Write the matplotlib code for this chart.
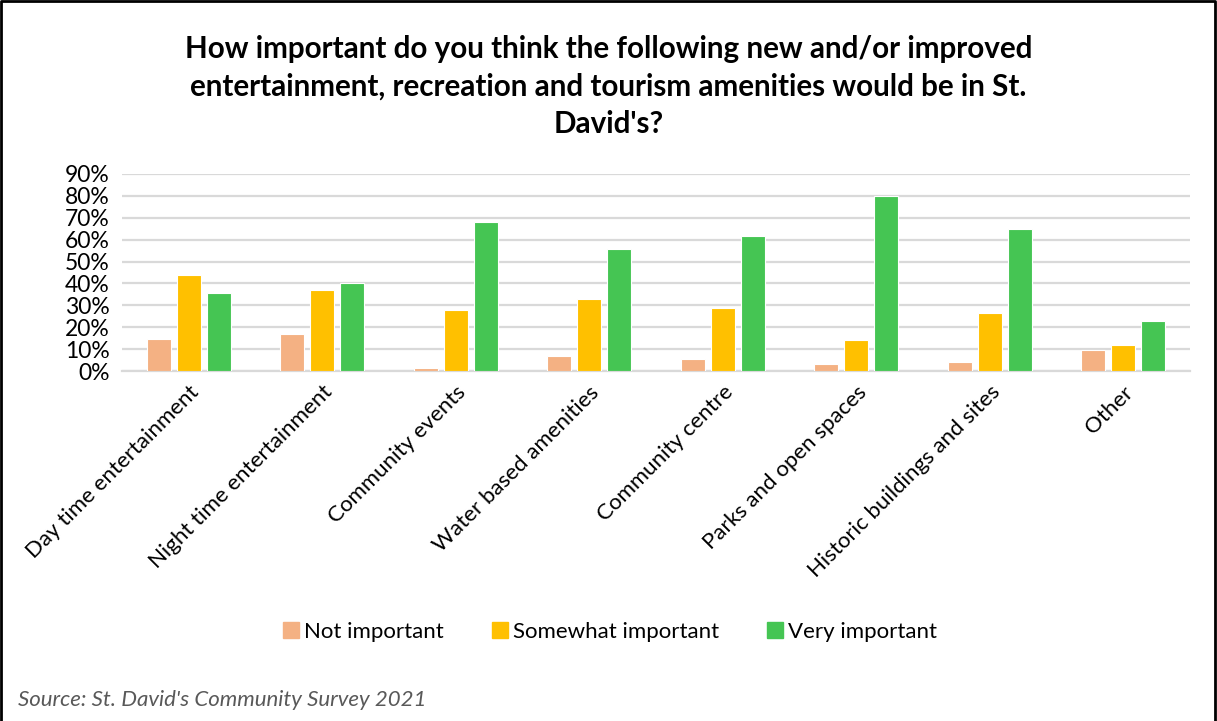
import matplotlib.pyplot as plt
import numpy as np
from matplotlib.lines import Line2D

plt.rcParams['font.family'] = ['Lato', 'DejaVu Sans']

categories = ['Day time entertainment', 'Night time entertainment', 'Community events',
              'Water based amenities', 'Community centre', 'Parks and open spaces',
              'Historic buildings and sites', 'Other']
not_important = [14.8, 17.0, 1.2, 6.7, 5.3, 3.1, 4.3, 9.6]
somewhat_important = [44.0, 37.0, 27.8, 32.8, 28.7, 14.0, 26.4, 11.9]
very_important = [35.6, 40.3, 68.0, 55.7, 61.5, 80.0, 64.9, 22.7]

series = [('Not important', not_important, '#F4B183'),
          ('Somewhat important', somewhat_important, '#FFC000'),
          ('Very important', very_important, '#45C553')]

fig = plt.figure(figsize=(12.17, 7.21), dpi=100)
ax = fig.add_axes([122 / 1217, 1 - 371 / 721, 1068 / 1217, 197 / 721])

x = np.arange(len(categories))
step = 0.225
width = 0.18
for i, (name, vals, col) in enumerate(series):
    ax.bar(x + (i - 1) * step, vals, width, color=col, edgecolor='white',
           linewidth=0.8, label=name, zorder=3)

ax.set_xlim(-0.5, len(categories) - 0.5)
ax.set_ylim(0, 90)
ax.set_yticks(range(0, 91, 10))
ax.set_yticklabels([f'{v}%' for v in range(0, 91, 10)], fontsize=16.5)
ax.yaxis.grid(True, color='#D9D9D9', linewidth=1.6, zorder=0)
ax.tick_params(axis='both', length=0, pad=8)
ax.tick_params(axis='y', pad=9)
for s in ['top', 'right', 'left']:
    ax.spines[s].set_visible(False)
ax.spines['bottom'].set_color('#D9D9D9')
ax.spines['bottom'].set_linewidth(1.6)

ax.set_xticks(x)
ax.set_xticklabels(categories, rotation=45, ha='right', rotation_mode='anchor',
                   fontsize=16)

fig.text(0.5, 1 - 35 / 721, 'How important do you think the following new and/or improved\n'
         'entertainment, recreation and tourism amenities would be in St.\nDavid\'s?',
         ha='center', va='top', fontsize=21.3, fontweight='bold', linespacing=1.42,
         transform=fig.transFigure)

handles = [Line2D([0], [0], marker='s', linestyle='none', markersize=12,
                  markerfacecolor=col, markeredgecolor=col) for _, _, col in series]
fig.legend(handles, [s[0] for s in series], loc='center', ncol=3,
           bbox_to_anchor=(0.5, 1 - 632 / 721), frameon=False, fontsize=16,
           handletextpad=0.1, columnspacing=2.0, handlelength=1.0)

fig.text(18 / 1217, 1 - 700 / 721, "Source: St. David's Community Survey 2021",
         ha='left', va='center', fontsize=16, style='italic', color='#595959')

# border round the chart
fig.add_artist(Line2D([0.001, 0.001, 0.998, 0.998], [0, 0.999, 0.999, 0],
                      color='black', linewidth=2, transform=fig.transFigure))

fig.savefig('out.png', dpi=100)
